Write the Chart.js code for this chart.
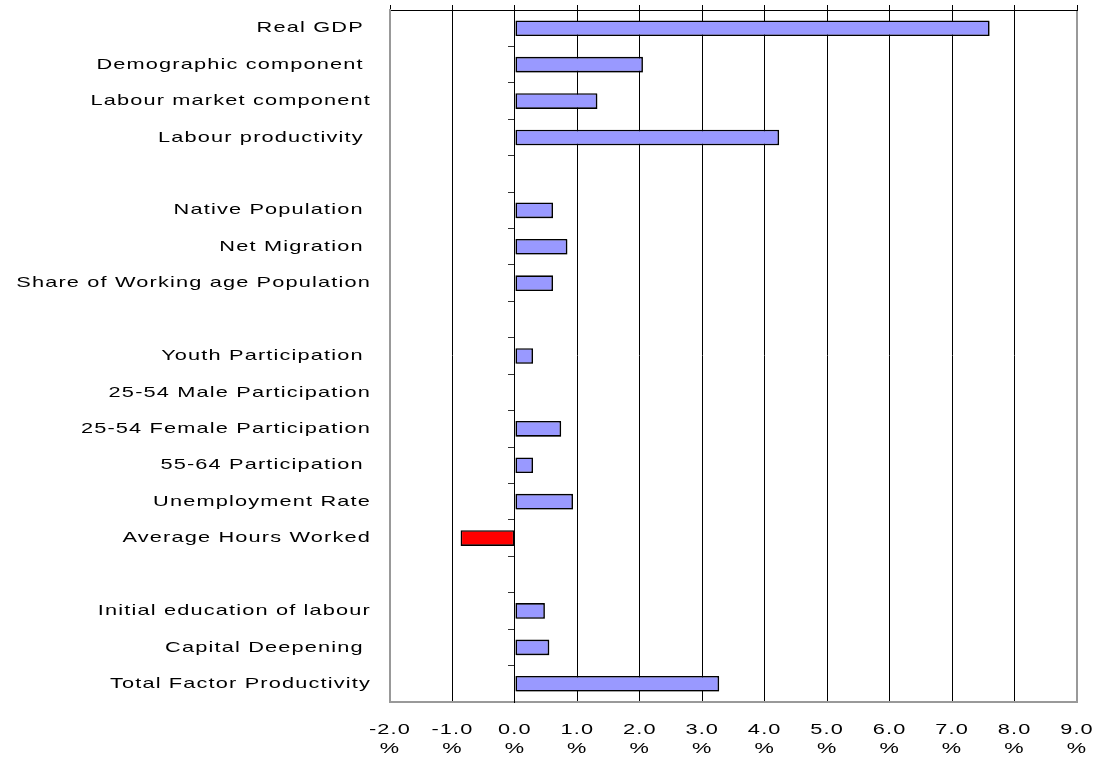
<!DOCTYPE html>
<html>
<head>
<meta charset="utf-8">
<script src="https://cdn.jsdelivr.net/npm/chart.js@4/dist/chart.umd.min.js"></script>
<style>
  html, body { margin: 0; padding: 0; background: #fff; }
  #wrap { width: 1102px; height: 758px; position: relative; }
</style>
</head>
<body>
<div id="wrap"><canvas id="growthChart"></canvas></div>
<script>
// Categories (blank strings are spacer rows)
const categories = [
    'Real GDP ', 'Demographic component ', 'Labour market component', 'Labour productivity ',
    '',
    'Native Population ', 'Net Migration ', 'Share of Working age Population',
    '',
    'Youth Participation ', '25-54 Male Participation', '25-54 Female Participation',
    '55-64 Participation ', 'Unemployment Rate', 'Average Hours Worked',
    '',
    'Initial education of labour', 'Capital Deepening ', 'Total Factor Productivity'
];

// Contribution to growth, percent
const contributions = [
    7.6, 2.05, 1.32, 4.23,
    null,
    0.61, 0.84, 0.61,
    null,
    0.29, 0, 0.74, 0.29, 0.93, -0.87,
    null,
    0.48, 0.55, 3.27
];

// X axis range and tick labels
const xMin = -2;
const xMax = 9;
const tickSuffix = '%';

// Stretch all text horizontally so it looks like the wide original lettering
const wideText = {
    id: 'wideText',
    beforeInit(chart) {
        const ctx = chart.ctx;
        const orig = CanvasRenderingContext2D.prototype.fillText;
        ctx.fillText = function(text, x, y) {
            this.save();
            this.translate(x, y);
            this.scale(1.45, 1);
            this.letterSpacing = '0.8px';
            orig.call(this, text, 0, 0);
            this.restore();
        };
    }
};

// Small grey drop shadow on bars
const barShadow = {
    id: 'barShadow',
    beforeDatasetsDraw(chart) {
        const ctx = chart.ctx;
        ctx.save();
        ctx.shadowColor = 'rgba(0,0,0,0.3)';
        ctx.shadowOffsetX = 1;
        ctx.shadowOffsetY = 1;
        ctx.shadowBlur = 0;
    },
    afterDatasetsDraw(chart) {
        chart.ctx.restore();
    }
};

const ctx = document.getElementById('growthChart').getContext('2d');
const growthChart = new Chart(ctx, {
    type: 'bar',
    data: {
        labels: categories,
        datasets: [{
            data: contributions,
            backgroundColor: c => (c.raw < 0 ? '#FF0000' : '#9999FF'),
            borderColor: '#000000',
            borderWidth: 1.6,
            borderSkipped: false,
            barPercentage: 0.43,
            categoryPercentage: 1.0
        }]
    },
    options: {
        indexAxis: 'y',
        responsive: true,
        maintainAspectRatio: false,
        animation: false,
        layout: { padding: { left: 0, right: 25, top: 5, bottom: 0 } },
        plugins: {
            legend: { display: false },
            tooltip: { enabled: false }
        },
        scales: {
            x: {
                position: 'bottom',
                min: xMin,
                max: xMax,
                ticks: {
                    stepSize: 1,
                    color: '#000',
                    padding: 18,
                    maxRotation: 0,
                    autoSkip: false,
                    font: { family: 'Liberation Sans, Arial, sans-serif', size: 15, lineHeight: 1.3 },
                    callback: v => [Number(v).toFixed(1), tickSuffix]
                },
                grid: {
                    drawTicks: false,
                    color: c => (c.tick && (c.tick.value === xMin || c.tick.value === xMax) ? '#999999' : '#000000'),
                    lineWidth: c => (c.tick && (c.tick.value === xMin || c.tick.value === xMax) ? 2 : 1)
                },
                border: { color: '#999999', width: 2 },
                afterFit: s => { s.height = 56; s.paddingLeft = 0; s.paddingRight = 0; }
            },
            xTop: {
                position: 'top',
                min: xMin,
                max: xMax,
                ticks: { stepSize: 1, display: false },
                grid: { drawOnChartArea: false, drawTicks: true, tickLength: 5, color: '#000000' },
                border: { color: '#000000', width: 1 },
                afterFit: s => { s.height = 5; }
            },
            y: {
                position: 'left',
                offset: true,
                ticks: {
                    color: '#000',
                    padding: 19,
                    autoSkip: false,
                    font: { family: 'Liberation Sans, Arial, sans-serif', size: 15 }
                },
                grid: { display: false, drawTicks: false },
                border: { color: '#999999', width: 2 },
                afterFit: s => { s.width = 390; s.paddingTop = 0; s.paddingBottom = 0; }
            },
            yZero: {
                type: 'category',
                position: { x: 0 },
                offset: true,
                ticks: { display: false },
                grid: {
                    offset: true,
                    drawOnChartArea: false,
                    drawTicks: true,
                    tickLength: 6,
                    color: '#333333'
                },
                border: { color: '#000000', width: 1 }
            }
        }
    },
    plugins: [wideText, barShadow]
});
</script>
</body>
</html>
